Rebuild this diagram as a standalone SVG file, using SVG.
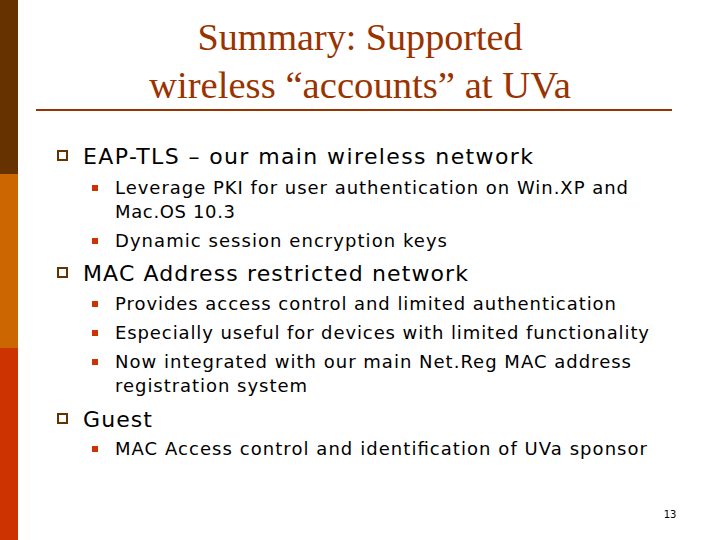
<svg xmlns="http://www.w3.org/2000/svg" width="720" height="540" viewBox="0 0 720 540">
<style>
.t{font-family:"Liberation Serif",serif;font-size:38px;fill:#993300;text-anchor:middle}
.l1{font-family:"DejaVu Sans",sans-serif;font-size:22px;fill:#000}
.l2{font-family:"DejaVu Sans",sans-serif;font-size:18px;fill:#000}
.hb{fill:none;stroke:#663300;stroke-width:2}
.sb{fill:#CC3300}
</style>
<rect width="720" height="540" fill="#fff"/>
<rect x="0" y="0" width="18" height="174" fill="#663300"/>
<rect x="0" y="174" width="18" height="174" fill="#CC6600"/>
<rect x="0" y="348" width="18" height="192" fill="#CC3300"/>
<g id="title">
<text class="t" x="360" y="50" textLength="325" lengthAdjust="spacingAndGlyphs">Summary: Supported</text>
<text class="t" x="360" y="98" textLength="422" lengthAdjust="spacingAndGlyphs">wireless “accounts” at UVa</text>
<line x1="36" y1="110" x2="672" y2="110" stroke="#993300" stroke-width="2"/>
</g>
<g id="b1">
<rect class="hb" x="58" y="151" width="9" height="9"/>
<text class="l1" x="83" y="164" textLength="450" lengthAdjust="spacing">EAP-TLS – our main wireless network</text>
<rect class="sb" x="92" y="185" width="6" height="6"/>
<text class="l2" x="115" y="194" textLength="513" lengthAdjust="spacing">Leverage PKI for user authentication on Win.XP and</text>
<text class="l2" x="115" y="218" textLength="120" lengthAdjust="spacing">Mac.OS 10.3</text>
<rect class="sb" x="92" y="238" width="6" height="6"/>
<text class="l2" x="115" y="247" textLength="332" lengthAdjust="spacing">Dynamic session encryption keys</text>
</g>
<g id="b2">
<rect class="hb" x="58" y="268" width="9" height="9"/>
<text class="l1" x="83" y="281" textLength="385" lengthAdjust="spacing">MAC Address restricted network</text>
<rect class="sb" x="92" y="301" width="6" height="6"/>
<text class="l2" x="115" y="310" textLength="501" lengthAdjust="spacing">Provides access control and limited authentication</text>
<rect class="sb" x="92" y="330" width="6" height="6"/>
<text class="l2" x="115" y="339" textLength="534" lengthAdjust="spacing">Especially useful for devices with limited functionality</text>
<rect class="sb" x="92" y="359" width="6" height="6"/>
<text class="l2" x="115" y="368" textLength="516" lengthAdjust="spacing">Now integrated with our main Net.Reg MAC address</text>
<text class="l2" x="115" y="392" textLength="192" lengthAdjust="spacing">registration system</text>
</g>
<g id="b3">
<rect class="hb" x="58" y="414" width="9" height="9"/>
<text class="l1" x="83" y="427" textLength="69" lengthAdjust="spacing">Guest</text>
<rect class="sb" x="92" y="446" width="6" height="6"/>
<text class="l2" x="115" y="455" textLength="532" lengthAdjust="spacing">MAC Access control and identification of UVa sponsor</text>
</g>
<text x="670" y="518" font-family="DejaVu Sans,sans-serif" font-size="10" text-anchor="middle">13</text>
</svg>
